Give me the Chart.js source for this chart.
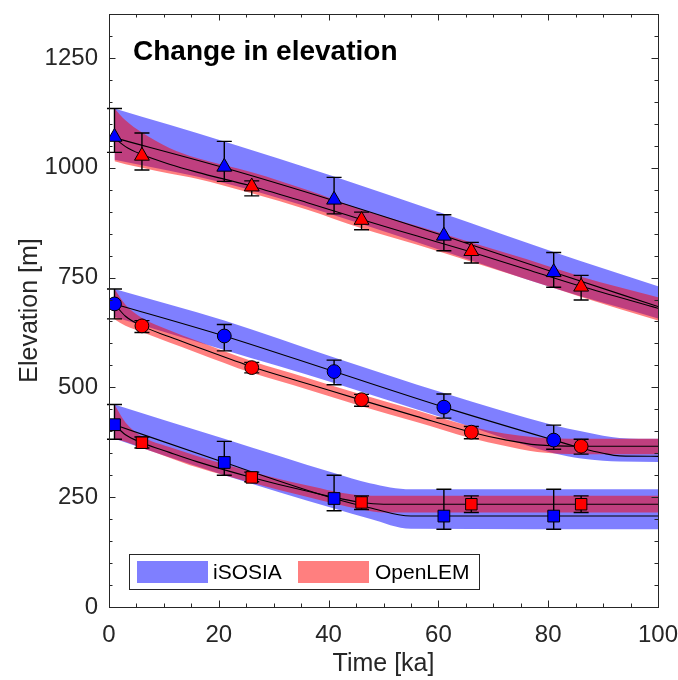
<!DOCTYPE html>
<html>
<head>
<meta charset="utf-8">
<script src="https://cdn.jsdelivr.net/npm/chart.js@4"></script>
<style>
  html, body { margin: 0; padding: 0; background: #fff; }
  canvas { display: block; }
</style>
</head>
<body>
<canvas id="elev_chart" width="678" height="680"></canvas>
<script>
// measured points: x in ka, y in m, with error bar limits
const markX_isosia = [1, 21, 41, 61, 81];
const markX_openlem = [6, 26, 46, 66, 86];

const triBlueY = [1070, 1002, 927, 845, 762];
const triBlueLo = [1035, 969, 895, 811, 728];
const triBlueHi = [1135, 1060, 978, 893, 807];
const triRedY = [1027, 957, 881, 810, 729];
const triRedLo = [995, 936, 859, 783, 699];
const triRedHi = [1079, 970, 899, 830, 755];

const cirBlueY = [690, 617, 536, 455, 380];
const cirBlueLo = [656, 583, 506, 430, 359];
const cirBlueHi = [724, 643, 562, 485, 414];
const cirRedY = [640, 545, 472, 398, 366];
const cirRedLo = [625, 533, 457, 383, 348];
const cirRedHi = [652, 557, 484, 411, 382];

const sqBlueY = [415, 329, 247, 207, 207];
const sqBlueLo = [382, 300, 219, 177, 177];
const sqBlueHi = [461, 377, 300, 268, 268];
const sqRedY = [374, 295, 238, 234, 234];
const sqRedLo = [362, 285, 222, 215, 215];
const sqRedHi = [387, 307, 253, 253, 253];

// model curves with their ranges
const triBlueCx = [1, 21, 41, 61, 81, 100];
const triBlueLine = [1068, 1000, 925, 845, 762, 684];
const triBlueTop = [1135, 1060, 980, 895, 808, 730];
const triBlueBot = [1018, 965, 892, 810, 726, 657];

const triRedCx = [1, 3, 6, 11, 16, 26, 36, 46, 56, 66, 76, 86, 100];
const triRedLine = [1068, 1048, 1030, 1008, 990, 958, 921, 882, 845, 808, 769, 730, 680];
const triRedTop = [1135, 1108, 1080, 1045, 1022, 990, 950, 905, 868, 830, 792, 752, 705];
const triRedBot = [1015, 1008, 1000, 987, 975, 942, 905, 862, 825, 786, 746, 706, 652];

const cirBlueCx = [1, 21, 41, 61, 81, 86, 90, 93, 100];
const cirBlueLine = [690, 617, 536, 455, 380, 362, 350, 344, 343];
const cirBlueTop = [724, 652, 568, 487, 414, 400, 390, 385, 383];
const cirBlueBot = [660, 585, 510, 430, 350, 338, 333, 331, 330];

const cirRedCx = [1, 3, 6, 11, 16, 26, 36, 46, 56, 66, 72, 78, 86, 100];
const cirRedLine = [690, 662, 640, 615, 592, 547, 509, 471, 434, 398, 381, 369, 366, 366];
const cirRedTop = [724, 688, 658, 630, 606, 560, 522, 484, 448, 411, 395, 386, 383, 383];
const cirRedBot = [655, 640, 626, 602, 579, 533, 496, 457, 421, 384, 367, 353, 348, 348];

const sqBlueCx = [1, 21, 41, 47.5, 55, 100];
const sqBlueLine = [415, 329, 247, 226, 207, 207];
const sqBlueTop = [461, 383, 305, 282, 268, 268];
const sqBlueBot = [383, 300, 224, 201, 178, 177];

const sqRedCx = [1, 3, 6, 11, 16, 26, 36, 46, 50, 100];
const sqRedLine = [415, 392, 374, 352, 331, 295, 264, 238, 234, 234];
const sqRedTop = [461, 420, 388, 364, 344, 308, 277, 254, 253, 253];
const sqRedBot = [383, 376, 362, 340, 318, 283, 251, 222, 215, 215];

const xTicks = [0, 20, 40, 60, 80, 100];
const yTicks = [0, 250, 500, 750, 1000, 1250];
const legendNames = ['iSOSIA', 'OpenLEM'];

const BLUE_BAND = 'rgba(0,0,255,0.5)';
const RED_BAND = 'rgba(255,0,0,0.5)';
const AXIS = '#262626';
const FONT = '"Liberation Sans", Arial, Helvetica, sans-serif';

const pts = (xs, ys) => xs.map((v, i) => ({ x: v, y: ys[i] }));

function band(xs, lo, hi, color, order) {
  const base = { pointRadius: 0, borderWidth: 0, borderColor: 'transparent',
    cubicInterpolationMode: 'monotone', order: order };
  return [
    Object.assign({ data: pts(xs, lo), fill: false }, base),
    Object.assign({ data: pts(xs, hi), fill: '-1', backgroundColor: color }, base)
  ];
}

function curve(xs, ys) {
  return { data: pts(xs, ys), borderColor: '#000', borderWidth: 1.1, pointRadius: 0,
    fill: false, cubicInterpolationMode: 'monotone', order: 2 };
}

function markers(xs, ys, lo, hi, color, style, r) {
  return { data: pts(xs, ys), errLo: lo, errHi: hi, showLine: false,
    pointStyle: style, pointRadius: r, backgroundColor: color, borderColor: '#000',
    borderWidth: 1, order: 1 };
}

const datasets = [].concat(
  band(triBlueCx, triBlueBot, triBlueTop, BLUE_BAND, 4),
  band(cirBlueCx, cirBlueBot, cirBlueTop, BLUE_BAND, 4),
  band(sqBlueCx, sqBlueBot, sqBlueTop, BLUE_BAND, 4),
  band(triRedCx, triRedBot, triRedTop, RED_BAND, 3),
  band(cirRedCx, cirRedBot, cirRedTop, RED_BAND, 3),
  band(sqRedCx, sqRedBot, sqRedTop, RED_BAND, 3),
  [
    curve(triBlueCx, triBlueLine), curve(triRedCx, triRedLine),
    curve(cirBlueCx, cirBlueLine), curve(cirRedCx, cirRedLine),
    curve(sqBlueCx, sqBlueLine), curve(sqRedCx, sqRedLine),
    markers(markX_isosia, triBlueY, triBlueLo, triBlueHi, '#0000ff', 'triangle', 8.6),
    markers(markX_openlem, triRedY, triRedLo, triRedHi, '#ff0000', 'triangle', 8.6),
    markers(markX_isosia, cirBlueY, cirBlueLo, cirBlueHi, '#0000ff', 'circle', 6.9),
    markers(markX_openlem, cirRedY, cirRedLo, cirRedHi, '#ff0000', 'circle', 6.9),
    markers(markX_isosia, sqBlueY, sqBlueLo, sqBlueHi, '#0000ff', 'rect', 8.3),
    markers(markX_openlem, sqRedY, sqRedLo, sqRedHi, '#ff0000', 'rect', 8.1)
  ]
);

// error bars under the markers, box with inner ticks, title and legend on top
const decor = {
  id: 'decor',
  beforeDatasetDraw(chart, args) {
    const ds = chart.data.datasets[args.index];
    if (!ds.errLo) return;
    const { ctx, scales: { x, y } } = chart;
    ctx.save();
    ctx.strokeStyle = '#000';
    ctx.lineWidth = 1.4;
    ds.data.forEach((p, i) => {
      const px = x.getPixelForValue(p.x);
      const y0 = y.getPixelForValue(ds.errLo[i]);
      const y1 = y.getPixelForValue(ds.errHi[i]);
      ctx.beginPath();
      ctx.moveTo(px, y0); ctx.lineTo(px, y1);
      ctx.moveTo(px - 7.5, y0); ctx.lineTo(px + 7.5, y0);
      ctx.moveTo(px - 7.5, y1); ctx.lineTo(px + 7.5, y1);
      ctx.stroke();
    });
    ctx.restore();
  },
  afterDraw(chart) {
    const { ctx, chartArea: a, scales: { x, y } } = chart;
    ctx.save();
    ctx.strokeStyle = AXIS;
    ctx.lineWidth = 1;
    ctx.beginPath();
    for (let v = 0; v <= 100; v += 5) {
      const px = Math.round(x.getPixelForValue(v)) + 0.5;
      const len = v % 20 === 0 ? 6.5 : 3.5;
      ctx.moveTo(px, a.bottom); ctx.lineTo(px, a.bottom - len);
      ctx.moveTo(px, a.top); ctx.lineTo(px, a.top + len);
    }
    for (let v = 0; v <= 1350; v += 50) {
      const py = Math.round(y.getPixelForValue(v)) + 0.5;
      const len = v % 250 === 0 ? 6.5 : 3.5;
      ctx.moveTo(a.left, py); ctx.lineTo(a.left + len, py);
      ctx.moveTo(a.right, py); ctx.lineTo(a.right - len, py);
    }
    ctx.stroke();
    ctx.strokeRect(Math.round(a.left) + 0.5, Math.round(a.top) + 0.5,
      Math.round(a.right - a.left), Math.round(a.bottom - a.top));

    ctx.fillStyle = '#000';
    ctx.font = 'bold 28px ' + FONT;
    ctx.textBaseline = 'alphabetic';
    ctx.fillText('Change in elevation', 133, 60);

    // legend
    ctx.fillStyle = '#fff';
    ctx.fillRect(130, 554, 350, 35);
    ctx.strokeStyle = AXIS;
    ctx.strokeRect(129.5, 554.5, 350, 35);
    ctx.fillStyle = BLUE_BAND;
    ctx.fillRect(137, 561, 71, 22);
    ctx.fillStyle = RED_BAND;
    ctx.fillRect(298, 561, 71, 22);
    ctx.fillStyle = '#000';
    ctx.font = '21px ' + FONT;
    ctx.textBaseline = 'middle';
    ctx.fillText(legendNames[0], 213, 573);
    ctx.fillText(legendNames[1], 375, 573);
    ctx.restore();
  }
};

const noEdgePad = s => { s.paddingTop = 0; s.paddingBottom = 0; s.paddingLeft = 0; s.paddingRight = 0; };

new Chart('elev_chart', {
  type: 'line',
  data: { datasets: datasets },
  plugins: [decor],
  options: {
    responsive: false,
    animation: false,
    devicePixelRatio: 1,
    layout: { padding: { top: 14, right: 20, left: 0, bottom: 0 } },
    plugins: { legend: { display: false }, tooltip: { enabled: false } },
    scales: {
      x: {
        type: 'linear', min: 0, max: 100,
        grid: { display: false, drawTicks: false },
        border: { display: false },
        afterBuildTicks: s => { s.ticks = xTicks.map(v => ({ value: v })); },
        afterFit: s => { s.height = 73; noEdgePad(s); },
        ticks: { color: AXIS, font: { family: FONT, size: 24 }, padding: 14, maxRotation: 0,
          callback: v => String(v) },
        title: { display: true, text: 'Time [ka]', color: AXIS,
          font: { family: FONT, size: 25 }, padding: { top: 0, bottom: 1 } }
      },
      y: {
        type: 'linear', min: 0, max: 1350,
        grid: { display: false, drawTicks: false },
        border: { display: false },
        afterBuildTicks: s => { s.ticks = yTicks.map(v => ({ value: v })); },
        afterFit: s => { s.width = 109; noEdgePad(s); },
        ticks: { color: AXIS, font: { family: FONT, size: 24 }, padding: 11,
          callback: v => String(v) },
        title: { display: true, text: 'Elevation [m]', color: AXIS,
          font: { family: FONT, size: 25 }, padding: { top: 15, bottom: 0 } }
      }
    }
  }
});
</script>
</body>
</html>
